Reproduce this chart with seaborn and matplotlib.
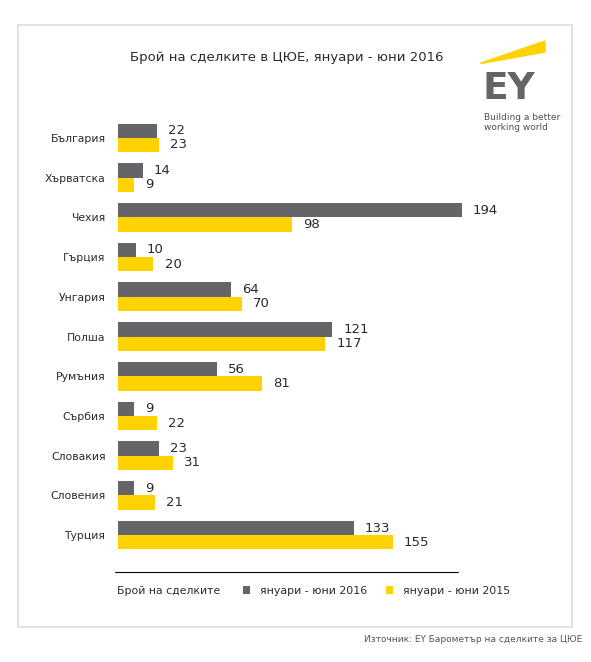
import pandas as pd
import matplotlib.pyplot as plt
import seaborn as sns
from matplotlib.patches import Rectangle, Polygon
from matplotlib.lines import Line2D

# Data
countries = ["България", "Хърватска", "Чехия", "Гърция", "Унгария", "Полша",
             "Румъния", "Сърбия", "Словакия", "Словения", "Турция"]
deals_2016 = [22, 14, 194, 10, 64, 121, 56, 9, 23, 9, 133]
deals_2015 = [23, 9, 98, 20, 70, 117, 81, 22, 31, 21, 155]
series_names = ["януари - юни 2016", "януари - юни 2015"]

title = "Брой на сделките в ЦЮЕ, януари - юни 2016"
legend_title = "Брой на сделките"
source = "Източник: EY Барометър на сделките за ЦЮЕ"

GRAY = "#646469"
YELLOW = "#FFD200"
TEXT = "#2b2b2b"

df = pd.DataFrame({
    "country": countries * 2,
    "deals": deals_2016 + deals_2015,
    "period": [series_names[0]] * len(countries) + [series_names[1]] * len(countries),
})

sns.set_style("white")
plt.rcParams["font.family"] = ["DejaVu Sans"]

W, H = 591, 662
fig = plt.figure(figsize=(W / 100, H / 100), dpi=100)


def fx(px):
    return px / W


def fy(py):
    return 1 - py / H


# main axes, placed in pixel terms
ax = fig.add_axes([fx(118), fy(559), fx(443), fy(114) - fy(559)])
sns.barplot(data=df, y="country", x="deals", hue="period", orient="h",
            palette=[GRAY, YELLOW], width=0.72, ax=ax, saturation=1,
            linewidth=0, edgecolor="none")

ax.set_xlim(0, 250)
ax.set_ylim(10.6, -0.6)
ax.set_xlabel("")
ax.set_ylabel("")
ax.set_xticks([])
sns.despine(ax=ax, left=True, bottom=True)
ax.tick_params(axis="y", length=0, pad=9, labelsize=7.8, labelcolor=TEXT)

for cont in ax.containers:
    ax.bar_label(cont, padding=8, fontsize=9.5, color=TEXT)

handles, labels = ax.get_legend_handles_labels()
ax.get_legend().remove()

# legend row
fig.text(fx(117), fy(591), legend_title, fontsize=7.8, color=TEXT, va="center")
fig.legend(handles, labels, loc="center left", bbox_to_anchor=(fx(243), fy(591)),
           ncol=2, frameon=False, fontsize=7.9, handlelength=0.65, handleheight=0.65,
           handletextpad=0.9, columnspacing=1.7, borderpad=0, borderaxespad=0,
           labelcolor=TEXT)

# separator line above legend
fig.add_artist(Line2D([fx(115), fx(458)], [fy(572), fy(572)], color="black", lw=0.8))

# title
fig.text(fx(287), fy(57), title, fontsize=9.5, color=TEXT, ha="center", va="center")

# EY logo
fig.add_artist(Polygon([(fx(481), fy(63)), (fx(545), fy(41)), (fx(545), fy(52)),
                        (fx(481), fy(63.5))], closed=True, color=YELLOW,
                       transform=fig.transFigure))
fig.text(fx(482), fy(89), "EY", fontsize=27, fontweight="bold", color=GRAY,
         va="center", ha="left")
fig.text(fx(484), fy(117), "Building a better", fontsize=6.5, color="#505050", va="center")
fig.text(fx(484), fy(128), "working world", fontsize=6.5, color="#505050", va="center")

# panel border
fig.add_artist(Rectangle((fx(18), fy(627)), fx(572) - fx(18), fy(25) - fy(627),
                         fill=False, edgecolor="#e2e2e2", lw=1.5,
                         transform=fig.transFigure))

# source
fig.text(fx(582), fy(639), source, fontsize=6.5, color="#555555", ha="right", va="center")

fig.savefig("out.png", dpi=100)
